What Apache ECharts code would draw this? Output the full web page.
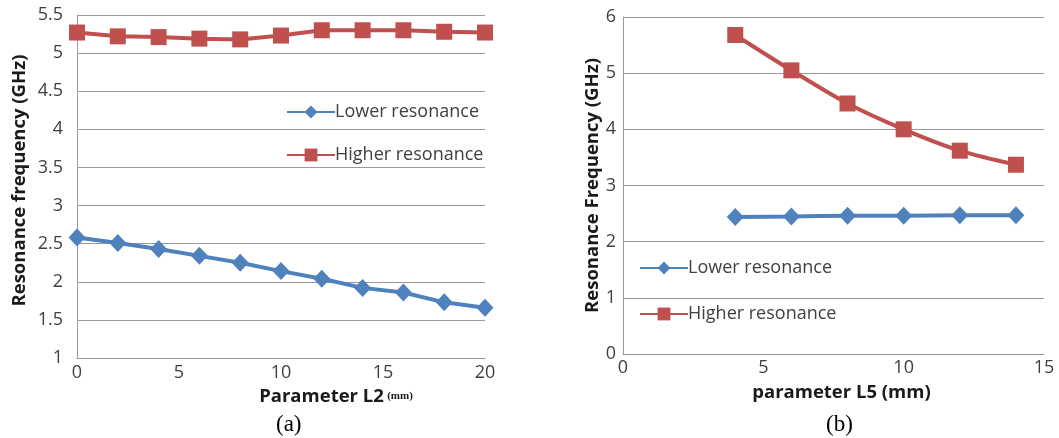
<!DOCTYPE html>
<html>
<head>
<meta charset="utf-8">
<script src="https://cdn.jsdelivr.net/npm/echarts@6/dist/echarts.min.js"></script>
<style>
html,body{margin:0;padding:0;background:#fff;}
#c{width:1059px;height:438px;}
</style>
</head>
<body>
<div id="c"></div>
<script>
// Chart (a)
const xA = [0, 2, 4, 6, 8, 10, 12, 14, 16, 18, 20];
const lowerA = [2.58, 2.51, 2.43, 2.34, 2.25, 2.14, 2.04, 1.92, 1.86, 1.73, 1.66];
const higherA = [5.27, 5.22, 5.21, 5.19, 5.18, 5.23, 5.30, 5.30, 5.30, 5.28, 5.27];
// Chart (b)
const xB = [4, 6, 8, 10, 12, 14];
const lowerB = [2.44, 2.45, 2.46, 2.46, 2.47, 2.47];
const higherB = [5.68, 5.05, 4.46, 4.00, 3.62, 3.37];

const seriesNames = ['Lower resonance', 'Higher resonance'];
const captions = ['(a)', '(b)'];

const BLUE = '#4F81BD', RED = '#C0504D';
const FONT = '"Open Sans", Lato, sans-serif';
const TXT = '#404040';
const GRID = '#9a9a9a';

const pair = (xs, ys) => xs.map((x, i) => [x, ys[i]]);

const chart = echarts.init(document.getElementById('c'));
const axisCommon = {
  axisLine: {show: true, lineStyle: {color: GRID, width: 1}},
  axisTick: {show: false},
  splitLine: {show: false},
  axisLabel: {color: TXT, fontFamily: FONT, fontSize: 18}
};
const nameStyle = {fontFamily: FONT, fontWeight: 'bold', fontSize: 18.5, color: '#1a1a1a'};
chart.setOption({
  animation: false,
  backgroundColor: '#fff',
  grid: [
    {left: 77, right: 574, top: 15, bottom: 80},
    {left: 623, right: 15, top: 17, bottom: 84}
  ],
  xAxis: [
    Object.assign({}, axisCommon, {gridIndex: 0, type: 'value', min: 0, max: 20, interval: 5,
      axisLabel: Object.assign({}, axisCommon.axisLabel, {margin: 6}),
      name: '{b|Parameter L2} {s|(mm)}', nameLocation: 'middle', nameGap: 27,
      nameTextStyle: {padding: [0, 0, 0, 110], rich: {
        b: Object.assign({}, nameStyle),
        s: {fontFamily: '"Liberation Serif", serif', fontWeight: 'bold', fontSize: 11, color: '#1a1a1a'}
      }}}),
    Object.assign({}, axisCommon, {gridIndex: 1, type: 'value', min: 0, max: 15, interval: 5,
      axisLabel: Object.assign({}, axisCommon.axisLabel, {margin: 5}),
      name: 'parameter L5 (mm)', nameLocation: 'middle', nameGap: 29,
      nameTextStyle: Object.assign({}, nameStyle, {padding: [0, 0, 0, 16]})})
  ],
  yAxis: [
    Object.assign({}, axisCommon, {gridIndex: 0, type: 'value', min: 1, max: 5.5, interval: 0.5,
      splitLine: {show: true, lineStyle: {color: GRID, width: 1}},
      axisLabel: Object.assign({}, axisCommon.axisLabel, {margin: 14, padding: [8, 0, 0, 0]}),
      name: 'Resonance frequency (GHz)', nameLocation: 'middle', nameGap: 48,
      nameTextStyle: Object.assign({}, nameStyle, {padding: [0, 0, 0, 12]})}),
    Object.assign({}, axisCommon, {gridIndex: 1, type: 'value', min: 0, max: 6, interval: 1,
      splitLine: {show: true, lineStyle: {color: GRID, width: 1}},
      axisLabel: Object.assign({}, axisCommon.axisLabel, {margin: 7}),
      name: 'Resonance Frequency (GHz)', nameLocation: 'middle', nameGap: 21,
      nameTextStyle: nameStyle})
  ],
  legend: [
    {left: 281, top: 98, orient: 'vertical', itemGap: 25, itemWidth: 48, itemHeight: 16,
      textStyle: {fontFamily: FONT, fontSize: 18, color: TXT, padding: [0, 0, 0, -5]},
      data: seriesNames},
    {left: 634, top: 254, orient: 'vertical', itemGap: 28, itemWidth: 48, itemHeight: 16,
      textStyle: {fontFamily: FONT, fontSize: 18, color: TXT, padding: [0, 0, 0, -5]},
      data: seriesNames}
  ],
  graphic: [
    {type: 'text', left: 276, top: 413, style: {text: captions[0], font: '23px "Liberation Serif", serif', fill: '#000'}},
    {type: 'text', left: 826, top: 413, style: {text: captions[1], font: '23px "Liberation Serif", serif', fill: '#000'}}
  ],
  series: [
    {name: seriesNames[0], type: 'line', xAxisIndex: 0, yAxisIndex: 0, data: pair(xA, lowerA),
      symbol: 'diamond', symbolSize: [17, 18], lineStyle: {color: BLUE, width: 4}, itemStyle: {color: BLUE}},
    {name: seriesNames[1], type: 'line', xAxisIndex: 0, yAxisIndex: 0, data: pair(xA, higherA),
      symbol: 'rect', symbolSize: 16, lineStyle: {color: RED, width: 4}, itemStyle: {color: RED}},
    {name: seriesNames[0], type: 'line', xAxisIndex: 1, yAxisIndex: 1, data: pair(xB, lowerB),
      symbol: 'diamond', symbolSize: [17, 18], smooth: 0.3, lineStyle: {color: BLUE, width: 4}, itemStyle: {color: BLUE}},
    {name: seriesNames[1], type: 'line', xAxisIndex: 1, yAxisIndex: 1, data: pair(xB, higherB),
      symbol: 'rect', symbolSize: 16, smooth: 0.3, lineStyle: {color: RED, width: 4}, itemStyle: {color: RED}}
  ]
});
</script>
</body>
</html>
